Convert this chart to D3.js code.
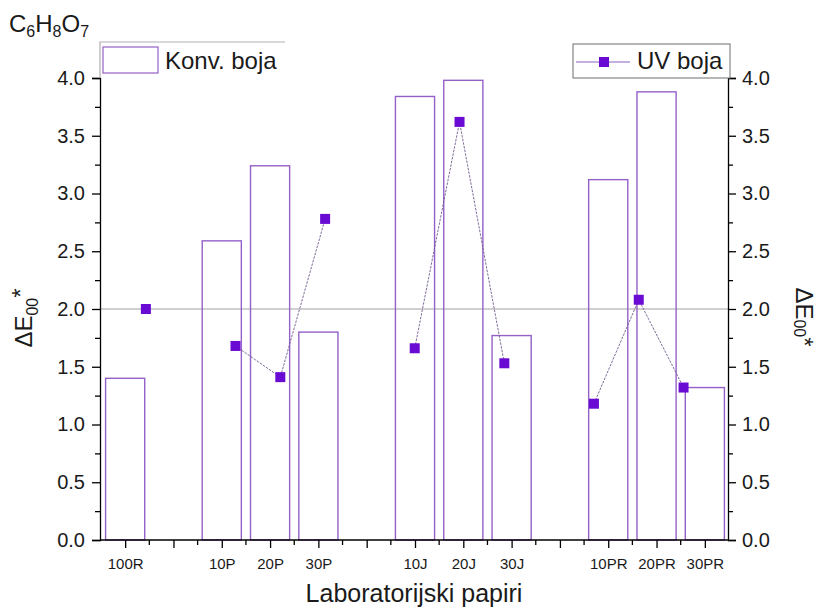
<!DOCTYPE html>
<html>
<head>
<meta charset="utf-8">
<script src="https://cdn.jsdelivr.net/npm/d3@7"></script>
<style>
  html, body { margin: 0; padding: 0; background: #fff; }
  svg { display: block; font-family: "Liberation Sans", Arial, sans-serif; }
</style>
</head>
<body>
<svg id="chart" width="821" height="610"></svg>
<script>
// ---- data ----
const slots = ["100R", "gap1", "10P", "20P", "30P", "gap2", "10J", "20J", "30J", "gap3", "10PR", "20PR", "30PR"];
const tickLabels = ["100R", "", "10P", "20P", "30P", "", "10J", "20J", "30J", "", "10PR", "20PR", "30PR"];
const samples = ["100R", "10P", "20P", "30P", "10J", "20J", "30J", "10PR", "20PR", "30PR"];
const konvBoja = [1.40, 2.59, 3.24, 1.80, 3.84, 3.98, 1.77, 3.12, 3.88, 1.32];
const uvBoja   = [2.00, 1.68, 1.41, 2.78, 1.66, 3.62, 1.53, 1.18, 2.08, 1.32];
const uvGroups = [["100R"], ["10P", "20P", "30P"], ["10J", "20J", "30J"], ["10PR", "20PR", "30PR"]];
const yTicks = [0, 0.5, 1.0, 1.5, 2.0, 2.5, 3.0, 3.5, 4.0];
const refLine = 2.0;

// ---- layout ----
const svg = d3.select("#chart");
const L = 100, R = 728, T = 78, B = 540;
const barColor = "#9460c8";
const markColor = "#6a0bd4";

const x = d3.scalePoint().domain(slots).range([L + 1, R + 1]).padding(0.5);
const step = x.step();
const barW = step * 0.81;
// UV series sits on its own (compressed) point scale
const xUV = d3.scalePoint().domain(slots).range([L + step * 0.95, R - step * 0.92]).padding(0);
const y = d3.scaleLinear().domain([0, 4]).range([B, T]);

// reference line
svg.append("line")
  .attr("x1", L).attr("x2", R).attr("y1", y(refLine)).attr("y2", y(refLine))
  .attr("stroke", "#a0a0a0").attr("stroke-width", 1);

// bars
const barData = samples.map((s, i) => ({ s, v: konvBoja[i] }));
svg.append("g").selectAll("rect").data(barData).join("rect")
  .attr("x", d => x(d.s) - barW / 2)
  .attr("width", barW)
  .attr("y", d => y(d.v))
  .attr("height", d => y(0) - y(d.v))
  .attr("fill", "none")
  .attr("stroke", barColor)
  .attr("stroke-width", 1.4);

// UV lines
const uvMap = new Map(samples.map((s, i) => [s, uvBoja[i]]));
const line = d3.line().x(d => xUV(d)).y(d => y(uvMap.get(d)));
svg.append("g").selectAll("path").data(uvGroups.filter(g => g.length > 1)).join("path")
  .attr("d", line)
  .attr("fill", "none")
  .attr("stroke", "#6f5a8c")
  .attr("stroke-width", 0.9)
  .attr("stroke-dasharray", "2.5,1.2");

// UV markers
const ms = 10;
svg.append("g").selectAll("rect").data(samples).join("rect")
  .attr("x", d => xUV(d) - ms / 2)
  .attr("y", d => y(uvMap.get(d)) - ms / 2)
  .attr("width", ms).attr("height", ms)
  .attr("fill", markColor);

// axes
const yMinor = d3.range(0, 4.01, 0.25).filter(v => !yTicks.some(t => Math.abs(t - v) < 1e-6));

function styleAxis(g) {
  g.selectAll("path.domain").attr("stroke", "#000").attr("stroke-width", 1.3);
  g.selectAll(".tick line").attr("stroke", "#000").attr("stroke-width", 1.3);
  g.selectAll(".tick text").attr("fill", "#1a1a1a");
}

const yLeft = svg.append("g").attr("transform", `translate(${L},0)`)
  .call(d3.axisLeft(y).tickValues(yTicks).tickFormat(d3.format(".1f")).tickSizeOuter(0).tickSize(8).tickPadding(7));
yLeft.selectAll(".tick text").attr("font-size", 20);
styleAxis(yLeft);
svg.append("g").attr("transform", `translate(${L},0)`)
  .call(d3.axisLeft(y).tickValues(yMinor).tickFormat("").tickSizeOuter(0).tickSize(5))
  .call(g => { g.select(".domain").remove(); styleAxis(g); });

const yRight = svg.append("g").attr("transform", `translate(${R},0)`)
  .call(d3.axisRight(y).tickValues(yTicks).tickFormat(d3.format(".1f")).tickSizeOuter(0).tickSize(8).tickPadding(6));
yRight.selectAll(".tick text").attr("font-size", 20);
styleAxis(yRight);
svg.append("g").attr("transform", `translate(${R},0)`)
  .call(d3.axisRight(y).tickValues(yMinor).tickFormat("").tickSizeOuter(0).tickSize(5))
  .call(g => { g.select(".domain").remove(); styleAxis(g); });

const xAxis = svg.append("g").attr("transform", `translate(0,${B})`)
  .call(d3.axisBottom(x).tickFormat((d, i) => tickLabels[i]).tickSizeOuter(0).tickSize(8).tickPadding(10));
xAxis.select(".domain").attr("d", `M${L},0H${R}`);
xAxis.selectAll(".tick text").attr("font-size", 15);
styleAxis(xAxis);
// minor x ticks between slots
const xMinorPos = d3.range(1, slots.length).map(i => L + 1 + step * i);
svg.append("g").selectAll("line").data(xMinorPos).join("line")
  .attr("x1", d => d).attr("x2", d => d)
  .attr("y1", B).attr("y2", B + 5)
  .attr("stroke", "#000").attr("stroke-width", 1.3);

// axis titles
svg.append("text")
  .attr("x", (L + R) / 2).attr("y", 602)
  .attr("text-anchor", "middle").attr("font-size", 25).attr("fill", "#1a1a1a")
  .text("Laboratorijski papiri");

function deltaLabel(g, subDy, starDy) {
  const t = g.append("text").attr("text-anchor", "middle").attr("font-size", 24).attr("fill", "#1a1a1a");
  t.append("tspan").text("ΔE");
  t.append("tspan").attr("font-size", 16).attr("dy", subDy).text("00");
  t.append("tspan").attr("dy", starDy - subDy).text("*");
  return t;
}
deltaLabel(svg.append("g").attr("transform", `translate(32,318) rotate(-90)`), 6, -3);
deltaLabel(svg.append("g").attr("transform", `translate(796,317) rotate(90)`), 2, 0);

// title C6H8O7
const title = svg.append("text").attr("x", 9).attr("y", 32).attr("font-size", 24).attr("fill", "#1a1a1a");
[["C", false], ["6", true], ["H", false], ["8", true], ["O", false], ["7", true]].forEach(([s, sub], i) => {
  title.append("tspan").attr("font-size", sub ? 16 : 24).attr("dy", i === 0 ? 0 : (sub ? 5 : -5)).text(s);
});

// legend: Konv. boja
svg.append("path")
  .attr("d", `M${L},${T}V42H285`)
  .attr("fill", "none").attr("stroke", "#b0b0b0").attr("stroke-width", 1.2);
svg.append("rect")
  .attr("x", 103).attr("y", 47).attr("width", 55).attr("height", 26)
  .attr("fill", "#fff").attr("stroke", barColor).attr("stroke-width", 1.2);
svg.append("text").attr("x", 165).attr("y", 69).attr("font-size", 24).attr("fill", "#1a1a1a").text("Konv. boja");

// legend: UV boja
svg.append("rect")
  .attr("x", 573).attr("y", 44).attr("width", 157).attr("height", 34)
  .attr("fill", "#fff").attr("stroke", "#6e6e6e").attr("stroke-width", 1);
svg.append("line").attr("x1", 576).attr("x2", 630).attr("y1", 62).attr("y2", 62)
  .attr("stroke", "#8a60c0").attr("stroke-width", 1.2);
svg.append("rect").attr("x", 599).attr("y", 57).attr("width", ms).attr("height", ms).attr("fill", markColor);
svg.append("text").attr("x", 637).attr("y", 69).attr("font-size", 24).attr("fill", "#1a1a1a").text("UV boja");
</script>
</body>
</html>
